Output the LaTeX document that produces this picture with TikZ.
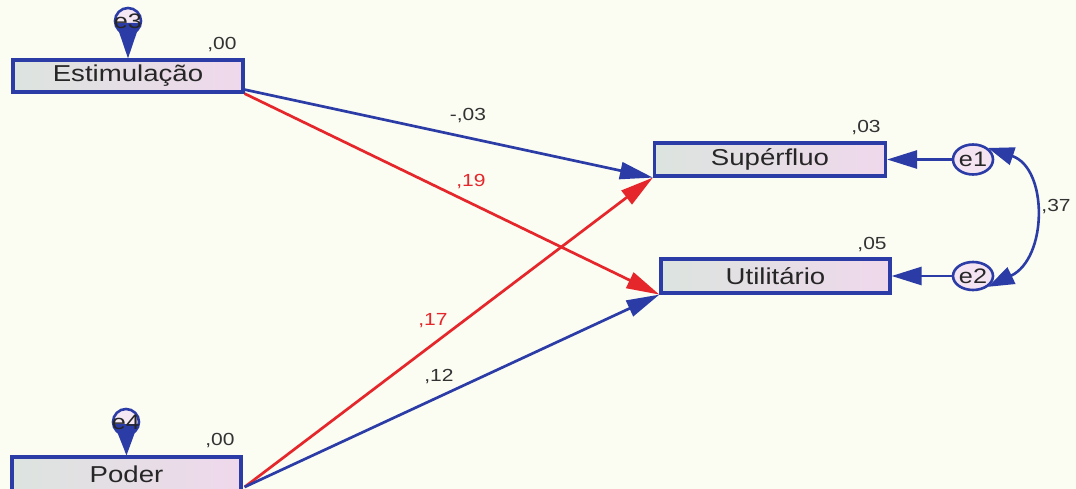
\documentclass[tikz,border=0pt]{standalone}
\usepackage{fontspec}
\setmainfont{Liberation Sans}[FakeStretch=1.2]
\usetikzlibrary{arrows.meta,shapes.geometric,calc}
\definecolor{bg}{HTML}{FBFCF2}
\definecolor{amblue}{HTML}{2B3CA6}
\definecolor{amred}{HTML}{E5262B}
\definecolor{fl}{HTML}{DCE4DF}
\definecolor{fr}{HTML}{EFD8EC}
\begin{document}
\begin{tikzpicture}[x=1pt,y=-1pt,
 var/.style={draw=amblue, line width=3.2pt, left color=fl, right color=fr, inner sep=0pt, font=\fontsize{23}{26}\selectfont, text=black!85},
 err/.style={ellipse, draw=amblue, line width=2.6pt, fill=fr!70!white, inner sep=0pt, minimum width=40pt, minimum height=30pt, font=\fontsize{21}{24}\selectfont, text=black!85},
 exo/.style={circle, draw=amblue, line width=2.6pt, fill=fr!60!white, minimum size=26pt, inner sep=0pt},
 etxt/.style={font=\fontsize{21}{24}\selectfont, text=black!85, inner sep=0pt},
 tip/.style={-{Triangle[length=33pt,width=17pt]}},
 bl/.style={draw=amblue, line width=2.7pt, tip},
 rd/.style={draw=amred, line width=2.7pt, tip},
 lab/.style={font=\fontsize{17.5}{19}\selectfont, text=black!80},
 rlab/.style={lab, text=amred}]
\fill[bg] (0,0) rectangle (1076,489);
\useasboundingbox (0,0) rectangle (1076,489);
\clip (0,0) rectangle (1076,489);

% observed variables
\node[var, minimum width=230pt, minimum height=32pt] (est) at (128,76) {Estimulação};
\node[var, minimum width=229pt, minimum height=34pt] (pod) at (126.5,474) {Poder};
\node[var, minimum width=231pt, minimum height=33pt] (sup) at (770,159.5) {Supérfluo};
\node[var, minimum width=229pt, minimum height=34pt] (uti) at (775.5,276) {Utilitário};

% error terms of the exogenous variables
\node[exo] (e3) at (128,21) {};
\fill[amblue] ($(e3.center)+(-12,2)$) -- ($(e3.center)+(12,2)$) -- (est.north) -- cycle;
\node[etxt] (e3t) at (e3) {e3};
\node[exo] (e4) at (126,422) {};
\fill[amblue] ($(e4.center)+(-12,2)$) -- ($(e4.center)+(12,2)$) -- (pod.north) -- cycle;
\node[etxt] (e4t) at (e4) {e4};

% error terms of the endogenous variables
\node[err] (e1) at (973,159.5) {e1};
\node[err, minimum height=28pt] (e2) at (973,276) {e2};
\draw[bl, -{Triangle[length=30pt,width=18pt]}] (e1.west) -- (sup.east);
\draw[bl, -{Triangle[length=30pt,width=18pt]}] (e2.west) -- (uti.east);
\draw[amblue, line width=2.6pt, {Triangle[length=26pt,width=18pt]}-{Triangle[length=26pt,width=18pt]}]
  (e1.north east) .. controls (1048,168) and (1048,258) .. (e2.south east);

% paths
\coordinate (estB) at ($(est.south east)+(0,-4)$);
\coordinate (podS) at ($(pod.east)+(2,13)$);
\draw[bl] (estB) -- (sup.south west);
\draw[rd] (est.south east) -- (uti.south west);
\draw[rd] (podS) -- (sup.south west);
\draw[bl] (podS) -- (uti.south west);

% labels
\node[lab] (l1) at (468,116) {-,03};
\node[rlab] (l2) at (471,182) {,19};
\node[rlab] (l3) at (433,321) {,17};
\node[lab] (l4) at (439,377) {,12};
\node[lab] (r1) at (222,45) {,00};
\node[lab] (r2) at (220,441) {,00};
\node[lab] (r3) at (866,128) {,03};
\node[lab] (r4) at (872,245) {,05};
\node[lab] (c1) at (1056,207) {,37};
\end{tikzpicture}
\end{document}
